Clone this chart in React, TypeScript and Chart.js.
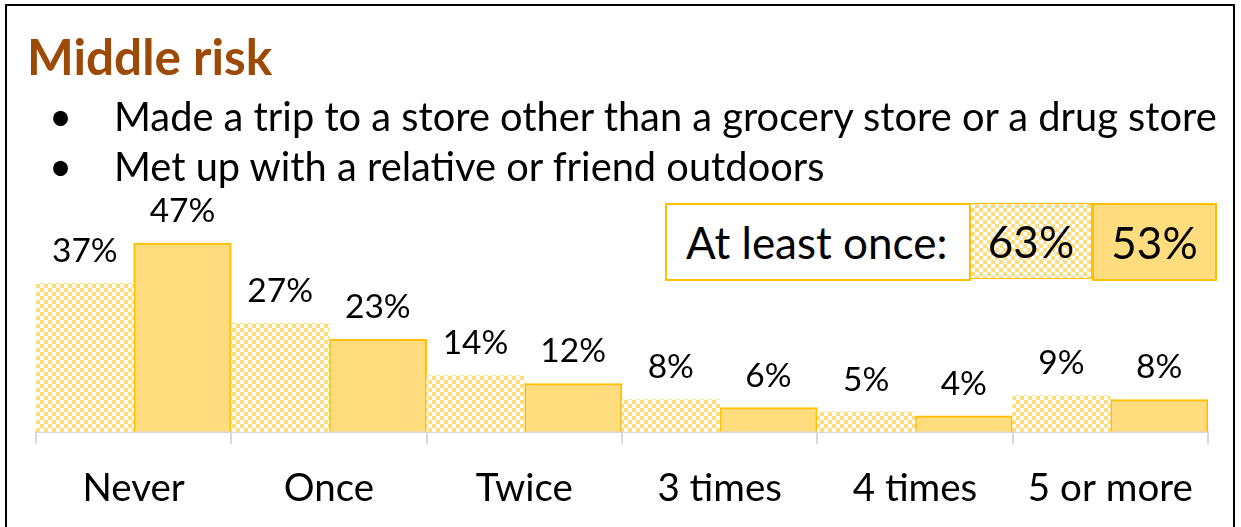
import React, { useEffect, useRef } from "react";
import { Chart, registerables } from "chart.js";

Chart.register(...registerables);

const categories = ["Never", "Once", "Twice", "3 times", "4 times", "5 or more"];
const storeTrip = [37, 27, 14, 8, 5, 9];
const metOutdoors = [47, 23, 12, 6, 4, 8];
const atLeastOnce = ["63%", "53%"];
const titleText = "Middle risk";
const bullets = [
  "Made a trip to a store other than a grocery store or a drug store",
  "Met up with a relative or friend outdoors",
];

const YELLOW = "#FFDC7D";
const GOLD = "#FFC000";
const FONT = "Lato, 'Open Sans', sans-serif";

function makePattern(): CanvasPattern | string {
  const c = document.createElement("canvas");
  c.width = 8;
  c.height = 8;
  const x = c.getContext("2d");
  if (!x) return YELLOW;
  x.fillStyle = "#ffffff";
  x.fillRect(0, 0, 8, 8);
  x.fillStyle = YELLOW;
  x.fillRect(0, 0, 4, 4);
  x.fillRect(4, 4, 4, 4);
  const p = x.createPattern(c, "repeat");
  return p || YELLOW;
}

const checkerCss = `repeating-conic-gradient(${YELLOW} 0% 25%, #ffffff 0% 50%) 0 0 / 8px 8px`;

export default function App() {
  const ref = useRef<HTMLCanvasElement | null>(null);

  useEffect(() => {
    if (!ref.current) return;
    const pattern = makePattern();
    const labelPlugin = {
      id: "valueLabels",
      afterDatasetsDraw(chart: any) {
        const ctx = chart.ctx;
        ctx.save();
        ctx.font = `33.5px ${FONT}`;
        ctx.fillStyle = "#000";
        ctx.textAlign = "center";
        ctx.textBaseline = "middle";
        chart.data.datasets.forEach((ds: any, di: number) => {
          const meta = chart.getDatasetMeta(di);
          meta.data.forEach((el: any, i: number) => {
            ctx.fillText(`${ds.data[i]}%`, el.x, el.y - 32);
          });
        });
        ctx.restore();
      },
    };
    const chart = new Chart(ref.current, {
      type: "bar",
      data: {
        labels: categories,
        datasets: [
          {
            label: "Store trip",
            data: storeTrip,
            backgroundColor: pattern as any,
            borderWidth: 0,
            categoryPercentage: 1,
            barPercentage: 1,
          },
          {
            label: "Met outdoors",
            data: metOutdoors,
            backgroundColor: YELLOW,
            borderColor: GOLD,
            borderWidth: 2,
            categoryPercentage: 1,
            barPercentage: 1,
          },
        ],
      },
      options: {
        responsive: false,
        animation: false,
        devicePixelRatio: 1,
        layout: { padding: { left: 36, right: 33, top: 231, bottom: 26 } },
        plugins: {
          legend: { display: false },
          tooltip: { enabled: false },
          title: { display: false },
        },
        scales: {
          y: { display: false, min: 0, max: 50 },
          x: {
            offset: true,
            grid: {
              offset: true,
              drawOnChartArea: false,
              drawTicks: true,
              tickLength: 12,
              color: "#D9D9D9",
              lineWidth: 2,
            },
            border: { display: true, color: "#D9D9D9", width: 2 },
            ticks: {
              color: "#000",
              padding: 22,
              font: { family: FONT, size: 38.5, lineHeight: 1.2 },
              maxRotation: 0,
              autoSkip: false,
            },
          },
        },
      },
      plugins: [labelPlugin],
    } as any);
    return () => chart.destroy();
  }, []);

  return (
    <div
      style={{
        position: "absolute",
        left: 0,
        top: 0,
        width: 1241,
        height: 527,
        overflow: "hidden",
        background: "#fff",
        fontFamily: FONT,
      }}
    >
      <div
        style={{
          position: "absolute",
          left: 5,
          top: 4,
          width: 1230,
          height: 600,
          border: "2px solid #000",
          boxSizing: "border-box",
        }}
      />
      <canvas
        ref={ref}
        width={1241}
        height={560}
        style={{ position: "absolute", left: 0, top: 0, width: 1241, height: 560 }}
      />
      <div
        style={{
          position: "absolute",
          left: 27,
          top: 26,
          lineHeight: "60px",
          fontSize: 49.5,
          fontWeight: 700,
          color: "#9C4A06",
          whiteSpace: "nowrap",
        }}
      >
        {titleText}
      </div>
      {bullets.map((b, i) => (
        <React.Fragment key={i}>
          <div
            style={{
              position: "absolute",
              left: 49,
              top: 91 + i * 50,
              lineHeight: "50px",
              fontSize: 39.8,
              color: "#000",
            }}
          >
            •
          </div>
          <div
            style={{
              position: "absolute",
              left: 114,
              top: 91 + i * 50,
              lineHeight: "50px",
              fontSize: 39.8,
              color: "#000",
              whiteSpace: "nowrap",
            }}
          >
            {b}
          </div>
        </React.Fragment>
      ))}
      <div
        style={{
          position: "absolute",
          left: 665,
          top: 203,
          width: 306,
          height: 78,
          boxSizing: "border-box",
          border: `2px solid ${GOLD}`,
          background: "#fff",
          display: "flex",
          alignItems: "center",
          paddingLeft: 19,
          fontSize: 44,
          whiteSpace: "nowrap",
        }}
      >
        At least once:
      </div>
      <div
        style={{
          position: "absolute",
          left: 970,
          top: 203,
          width: 122,
          height: 76,
          boxSizing: "border-box",
          border: `1.5px solid ${GOLD}`,
          background: checkerCss,
          display: "flex",
          alignItems: "center",
          justifyContent: "center",
          fontSize: 44,
        }}
      >
        {atLeastOnce[0]}
      </div>
      <div
        style={{
          position: "absolute",
          left: 1092,
          top: 203,
          width: 125,
          height: 78,
          boxSizing: "border-box",
          border: `2px solid ${GOLD}`,
          background: YELLOW,
          display: "flex",
          alignItems: "center",
          justifyContent: "center",
          fontSize: 44,
        }}
      >
        {atLeastOnce[1]}
      </div>
    </div>
  );
}
